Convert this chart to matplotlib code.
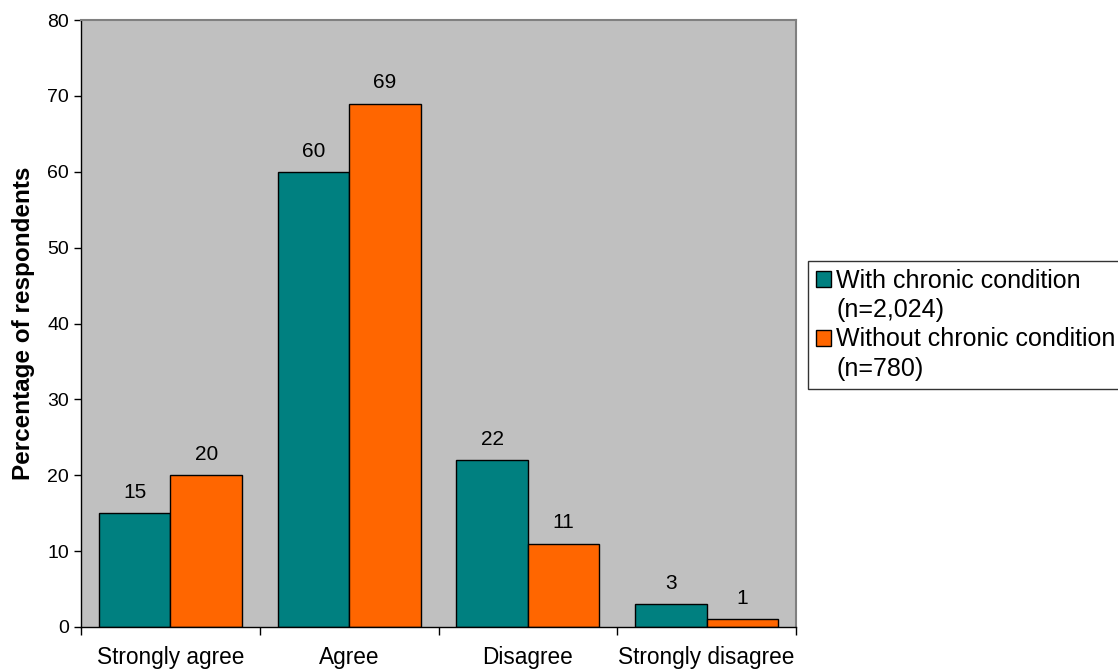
import numpy as np
import matplotlib
matplotlib.use('Agg')
import matplotlib.pyplot as plt
from matplotlib.patches import Rectangle

plt.rcParams['font.family'] = ['Liberation Sans', 'DejaVu Sans']

categories = ['Strongly agree', 'Agree', 'Disagree', 'Strongly disagree']
with_chronic = [15, 60, 22, 3]
without_chronic = [20, 69, 11, 1]
series_names = ['With chronic condition', 'Without chronic condition']
series_counts = ['(n=2,024)', '(n=780)']
colors = ['#008080', '#FF6600']

fig = plt.figure(figsize=(11.18, 6.69), dpi=100)
ax = fig.add_axes([0.0725, 0.0628, 0.6395, 0.9072])
ax.set_facecolor('#C0C0C0')

x = np.arange(len(categories))
width = 0.4
bars1 = ax.bar(x - width / 2, with_chronic, width, color=colors[0],
               edgecolor='black', linewidth=1)
bars2 = ax.bar(x + width / 2, without_chronic, width, color=colors[1],
               edgecolor='black', linewidth=1)

for bars, vals in ((bars1, with_chronic), (bars2, without_chronic)):
    for b, v in zip(bars, vals):
        ax.annotate(str(v), (b.get_x() + b.get_width() / 2, v),
                    xytext=(0, 8), textcoords='offset points',
                    ha='center', va='bottom', fontsize=15)

ax.set_xlim(-0.5, len(categories) - 0.5)
ax.set_ylim(0, 80)
ax.set_yticks(range(0, 81, 10))
ax.tick_params(axis='y', labelsize=14, length=5, width=1, direction='out')

# category labels sit between boundary ticks
ax.set_xticks(np.arange(-0.5, len(categories), 1.0))
ax.set_xticklabels([])
ax.set_xticks(x, minor=True)
ax.set_xticklabels(categories, minor=True, fontsize=16.3)
ax.tick_params(axis='x', which='major', length=6, width=1, direction='out')
ax.tick_params(axis='x', which='minor', length=0, pad=14)

ax.set_ylabel('Percentage of respondents', fontsize=17.5, fontweight='bold', labelpad=9)

for side in ('left', 'bottom'):
    ax.spines[side].set_color('black')
    ax.spines[side].set_linewidth(1)
for side in ('top', 'right'):
    ax.spines[side].set_color('#808080')
    ax.spines[side].set_linewidth(1.5)

# legend: swatch next to the first line of each entry only
blank = Rectangle((0, 0), 1, 1, visible=False)
handles = [bars1, blank, bars2, blank]
labels = [series_names[0], series_counts[0], series_names[1], series_counts[1]]
leg = fig.legend(handles, labels, loc='upper left',
                 bbox_to_anchor=(808 / 1118, 1 - 261 / 669),
                 fontsize=18, frameon=True, fancybox=False, edgecolor='black',
                 handlelength=0.62, handleheight=0.62, handletextpad=0.2,
                 borderpad=0.3, labelspacing=0.22, borderaxespad=0)
leg.get_frame().set_linewidth(1)

fig.savefig('out.png', dpi=100)
